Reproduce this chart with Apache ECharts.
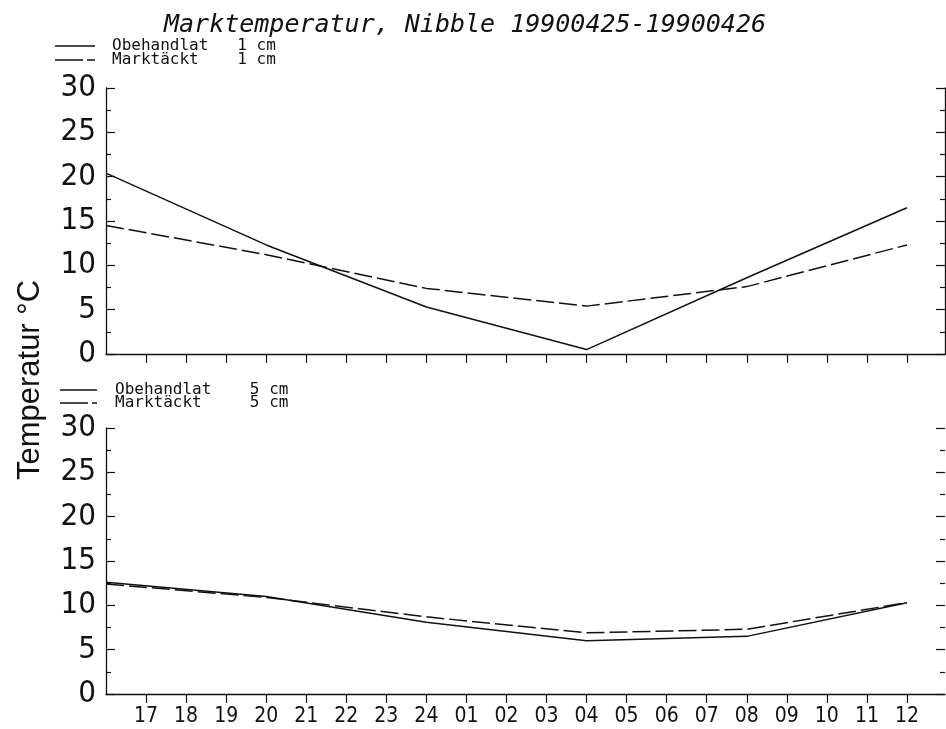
<!DOCTYPE html>
<html>
<head>
<meta charset="utf-8">
<script src="https://cdn.jsdelivr.net/npm/echarts@6/dist/echarts.min.js"></script>
<style>
  html, body { margin: 0; padding: 0; background: #fff; }
  #chart { width: 946px; height: 729px; }
</style>
</head>
<body>
<div id="chart"></div>
<script>
// hour positions along the x axis, '16' sits on the left axis
const hourLabels = ['16', '17', '18', '19', '20', '21', '22', '23', '24', '01', '02',
                    '03', '04', '05', '06', '07', '08', '09', '10', '11', '12'];
// measurement times
const sampleHours = ['16', '20', '24', '04', '08', '12'];

// 1 cm depth
const obehandlat1 = [20.4, 12.3, 5.3, 0.5, 8.6, 16.5];
const marktackt1 = [14.5, 11.2, 7.4, 5.4, 7.6, 12.3];
// 5 cm depth
const obehandlat5 = [12.6, 11.0, 8.1, 6.0, 6.5, 10.3];
const marktackt5 = [12.4, 10.9, 8.7, 6.9, 7.3, 10.3];

const titleText = 'Marktemperatur, Nibble 19900425-19900426';
const yTitle = 'Temperatur °C';

const ink = '#111';
const narrowFont = '"Liberation Sans Narrow", "DejaVu Sans Condensed", "Liberation Sans", sans-serif';
const shownHours = hourLabels.map((h, i) => i).slice(1);

let toPoints = (vals) => vals.map((v, i) => [hourLabels.indexOf(sampleHours[i]), v]);

let makeX = (gridIndex, withLabels) => ({
    type: 'value',
    gridIndex: gridIndex,
    min: 0,
    max: 20.95,
    axisLine: { show: true, onZero: false, lineStyle: { color: ink, width: 1.3 } },
    axisTick: { show: true, inside: false, length: 9, customValues: shownHours,
                lineStyle: { color: ink, width: 1.2 } },
    axisLabel: {
        show: withLabels,
        customValues: shownHours,
        formatter: (v) => hourLabels[v],
        margin: 12,
        color: ink,
        fontFamily: narrowFont,
        fontSize: 21
    },
    splitLine: { show: false }
});

let makeY = (gridIndex, side, showLine) => ({
    type: 'value',
    gridIndex: gridIndex,
    position: side,
    min: 0,
    max: 30,
    interval: 5,
    axisLine: { show: showLine, lineStyle: { color: ink, width: 1.3 } },
    axisTick: { show: true, inside: true, length: 9, lineStyle: { color: ink, width: 1.2 } },
    minorTick: { show: true, splitNumber: 2, length: 5, lineStyle: { color: ink, width: 1.2 } },
    axisLabel: {
        show: side === 'left',
        margin: 10,
        color: ink,
        fontFamily: narrowFont,
        fontSize: 31
    },
    splitLine: { show: false }
});

let line = (name, vals, xi, dashed) => ({
    name: name,
    type: 'line',
    xAxisIndex: xi,
    yAxisIndex: xi * 2,
    data: toPoints(vals),
    symbol: 'none',
    silent: true,
    lineStyle: { color: ink, width: 1.5, type: dashed ? [18, 5] : 'solid' }
});

let legendRow = (y, x0, x1, tx, label, dashed) => [
    {
        type: 'line',
        shape: { x1: x0, y1: y, x2: x1, y2: y },
        style: { stroke: ink, lineWidth: 1.3, lineDash: dashed ? [28, 4, 8, 100] : null }
    },
    {
        type: 'text',
        x: tx,
        y: y,
        style: { text: label, fill: ink, font: '16px "DejaVu Sans Mono"', verticalAlign: 'middle' }
    }
];

let chart = echarts.init(document.getElementById('chart'));

let option = {
    animation: false,
    backgroundColor: '#fff',
    title: {
        text: titleText,
        left: 460,
        top: 8,
        textAlign: 'center',
        textStyle: {
            color: ink,
            fontFamily: 'DejaVu Sans Mono',
            fontStyle: 'italic',
            fontWeight: 'normal',
            fontSize: 25
        }
    },
    grid: [
        { left: 106, top: 88, width: 839, height: 266 },
        { left: 106, top: 428, width: 839, height: 266 }
    ],
    xAxis: [makeX(0, false), makeX(1, true)],
    yAxis: [makeY(0, 'left', true), makeY(0, 'right', true), makeY(1, 'left', true), makeY(1, 'right', false)],
    series: [
        line('Obehandlat 1 cm', obehandlat1, 0, false),
        line('Marktäckt 1 cm', marktackt1, 0, true),
        line('Obehandlat 5 cm', obehandlat5, 1, false),
        line('Marktäckt 5 cm', marktackt5, 1, true)
    ],
    graphic: [
        ...legendRow(46, 55, 95, 112, 'Obehandlat   1 cm', false),
        ...legendRow(60, 55, 95, 112, 'Marktäckt    1 cm', true),
        ...legendRow(390, 60, 97, 115, 'Obehandlat    5 cm', false),
        ...legendRow(403, 60, 97, 115, 'Marktäckt     5 cm', true),
        {
            type: 'text',
            x: 30,
            y: 380,
            rotation: Math.PI / 2,
            style: {
                text: yTitle,
                fill: ink,
                font: '31px "Liberation Sans", sans-serif',
                align: 'center',
                verticalAlign: 'middle'
            }
        }
    ]
};

chart.setOption(option);
</script>
</body>
</html>
